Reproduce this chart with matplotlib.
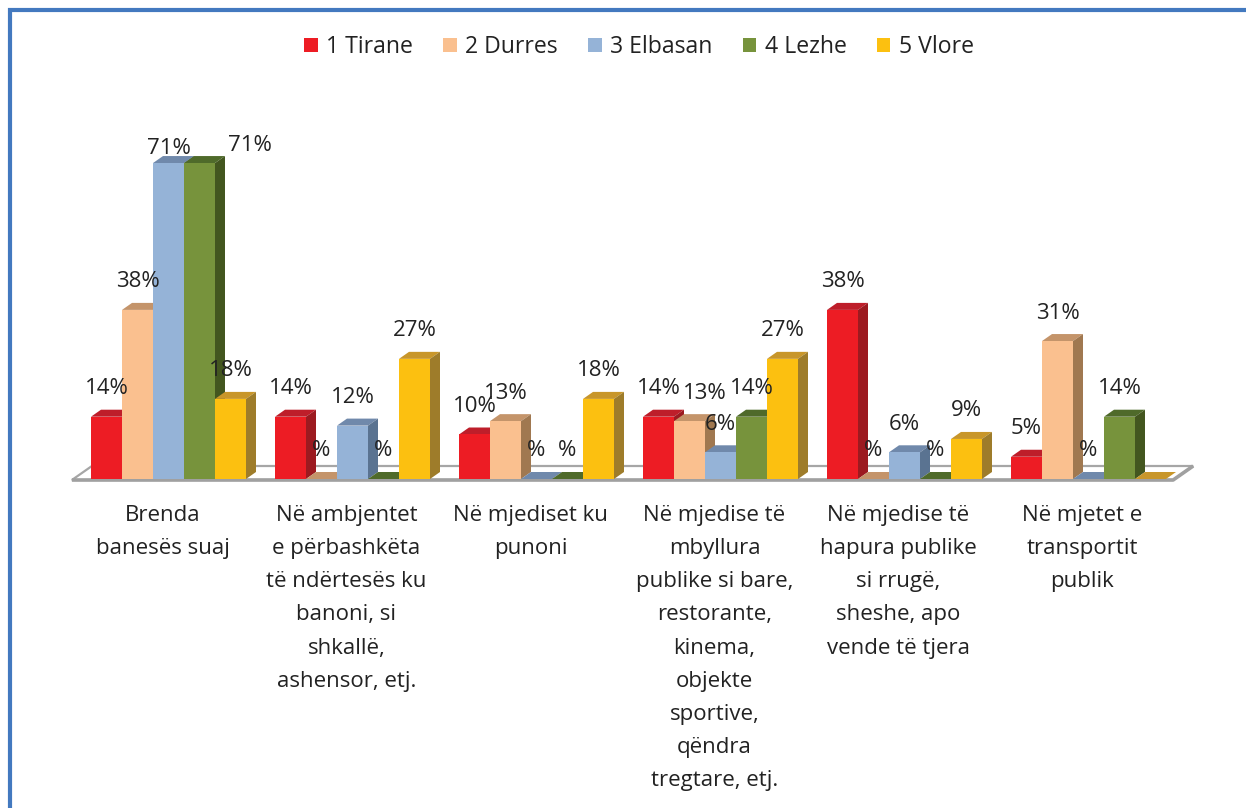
import matplotlib
matplotlib.use('Agg')
import matplotlib.pyplot as plt
from matplotlib.patches import Polygon, Patch
from matplotlib.lines import Line2D

# ---------------- data ----------------
categories = [
    "Brenda\nbanesës suaj",
    "Në ambjentet\ne përbashkëta\ntë ndërtesës ku\nbanoni, si\nshkallë,\nashensor, etj.",
    "Në mjediset ku\npunoni",
    "Në mjedise të\nmbyllura\npublike si bare,\nrestorante,\nkinema,\nobjekte\nsportive,\nqëndra\ntregtare, etj.",
    "Në mjedise të\nhapura publike\nsi rrugë,\nsheshe, apo\nvende të tjera",
    "Në mjetet e\ntransportit\npublik",
]
series_names = ["1 Tirane", "2 Durres", "3 Elbasan", "4 Lezhe", "5 Vlore"]
tirane = [14, 14, 10, 14, 38, 5]
durres = [38, 0, 13, 13, 0, 31]
elbasan = [71, 12, 0, 6, 6, 0]
lezhe = [71, 0, 0, 14, 0, 14]
vlore = [18, 27, 18, 27, 9, 0]
values = [tirane, durres, elbasan, lezhe, vlore]
hidden_labels = {(4, 5)}  # (series, category) with no data label

# ---------------- style ----------------
front_colors = ["#ED1C24", "#FAC08F", "#95B3D7", "#77933C", "#FCC010"]
top_colors = ["#BE1E2A", "#C4946A", "#7089AB", "#4F6A2A", "#C8962A"]
side_colors = ["#9C1A20", "#A07850", "#5A7391", "#43561F", "#9E7C2A"]
text_color = "#222222"
border_color = "#4379BF"

plt.rcParams['font.family'] = ['Open Sans', 'DejaVu Sans']
FS = 16

W, H = 1246, 808
fig = plt.figure(figsize=(W / 100, H / 100), dpi=100)
ax = fig.add_axes([0, 0, 1, 1])
ax.axis('off')

# pixel geometry of the plot
px_per_cat = 184.0
cat0_px = 168.5
base_px = 479.0
px_per_pct = 4.45
ax.set_xlim(-cat0_px / px_per_cat, (W - cat0_px) / px_per_cat)
ax.set_ylim((base_px - H) / px_per_pct, base_px / px_per_pct)

def ypix(p):  # pixel-from-top -> data y
    return (base_px - p) / px_per_pct

n_ser = len(values)
n_cat = len(categories)
w = 31.0 / px_per_cat
ddx = 10.0 / px_per_cat
ddy = 7.0 / px_per_pct

# ---------------- floor ----------------
fdx = 20.0 / px_per_cat
fdy = 14.0 / px_per_pct
fx0 = -0.5 - 0.025
fx1 = n_cat - 0.5 - 0.04
fy = ypix(480)
floor = Polygon([(fx0, fy), (fx1, fy), (fx1 + fdx, fy + fdy), (fx0 + fdx, fy + fdy)],
                closed=True, facecolor='white', edgecolor='#A6A6A6', lw=1.6, zorder=1)
ax.add_patch(floor)
ax.plot([fx0, fx1, fx1 + fdx], [fy, fy, fy + fdy], color='#A0A0A0', lw=2.6,
        solid_capstyle='butt', zorder=1.1)

# ---------------- bars ----------------
for j, vals in enumerate(values):
    xs = [i + (j - (n_ser - 1) / 2) * w for i in range(n_cat)]
    z = 2 + j * 0.1
    for x, v in zip(xs, vals):
        xl, xr = x - w / 2, x + w / 2
        top = Polygon([(xl, v), (xr, v), (xr + ddx, v + ddy), (xl + ddx, v + ddy)],
                      closed=True, facecolor=top_colors[j], edgecolor='none', zorder=z)
        ax.add_patch(top)
        if v > 0:
            side = Polygon([(xr, 0), (xr + ddx, ddy), (xr + ddx, v + ddy), (xr, v)],
                           closed=True, facecolor=side_colors[j], edgecolor='none', zorder=z)
            ax.add_patch(side)
    ax.bar(xs, vals, width=w, color=front_colors[j], edgecolor='none', lw=0, zorder=z + 0.05)

# ---------------- data labels ----------------
label_shift = {(2, 0): (0, -13), (3, 0): (50, -10), (1, 3): (15, 0)}
for j, vals in enumerate(values):
    for i, v in enumerate(vals):
        if (j, i) in hidden_labels:
            continue
        x = i + (j - (n_ser - 1) / 2) * w
        txt = "%" if v == 0 else f"{v}%"
        sx, sy = label_shift.get((j, i), (0, 0))
        ax.annotate(txt, xy=(x, v), xytext=(sx, 28 + sy), textcoords='offset pixels',
                    ha='center', va='center', fontsize=FS, color=text_color, zorder=10)

# ---------------- category labels ----------------
for i, lab in enumerate(categories):
    ax.text(i - 6.0 / px_per_cat, ypix(505), lab, ha='center', va='top',
            fontsize=FS, color=text_color, linespacing=1.76)

# ---------------- legend ----------------
handles = [Patch(facecolor=c, edgecolor='none', label=n) for c, n in zip(front_colors, series_names)]
fig.legend(handles=handles, loc='center', bbox_to_anchor=(639 / W, 1 - 47 / H), ncol=5,
           frameon=False, fontsize=16.6, handlelength=0.6, handleheight=0.6,
           handletextpad=0.36, columnspacing=1.3, labelcolor=text_color)

# ---------------- border ----------------
fig.add_artist(Line2D([9.8 / W, 9.8 / W, 1.0], [0.0, 1 - 9.5 / H, 1 - 9.5 / H],
                      transform=fig.transFigure, color=border_color, lw=3.0,
                      solid_joinstyle='miter'))

fig.savefig('out.png', dpi=100)
